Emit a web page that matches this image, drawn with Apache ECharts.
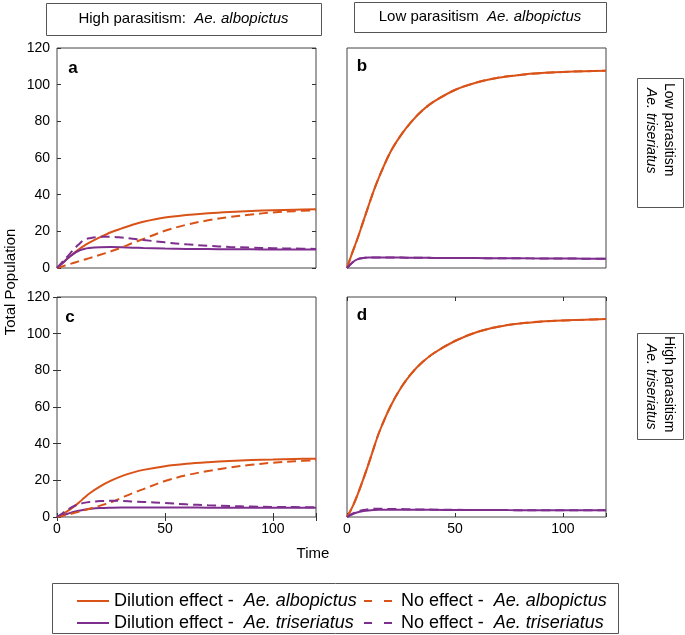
<!DOCTYPE html>
<html>
<head>
<meta charset="utf-8">
<script src="https://cdn.jsdelivr.net/npm/echarts@6/dist/echarts.min.js"></script>
<style>
html,body{margin:0;padding:0;background:#fff;}
#chart{width:685px;height:635px;}
</style>
</head>
<body>
<div id="chart"></div>
<script>
// ---- data ----
const T = [0, 2.5, 5, 7.5, 10, 12.5, 15, 20, 25, 30, 35, 40, 50, 60, 70, 80, 90, 100, 110, 120];

// panel a: high parasitism albopictus, low parasitism triseriatus
const aDilAlb = [0, 2.6, 5.3, 7.8, 10.1, 12.1, 13.8, 16.8, 19.5, 21.6, 23.6, 25.2, 27.5, 28.9, 29.9, 30.6, 31.1, 31.5, 31.8, 32.0];
const aNoAlb  = [0, 0.9, 1.8, 2.7, 3.6, 4.5, 5.4, 7.2, 9.1, 11.2, 13.6, 15.8, 20.3, 23.6, 26.0, 27.8, 29.2, 30.3, 31.0, 31.5];
const aDilTri = [0, 2.6, 5.3, 7.6, 9.4, 10.4, 10.9, 11.3, 11.4, 11.3, 11.1, 10.9, 10.6, 10.4, 10.3, 10.2, 10.2, 10.1, 10.1, 10.1];
const aNoTri  = [0, 3.3, 6.5, 9.8, 12.8, 15.3, 16.2, 17.0, 17.0, 16.6, 16.0, 15.3, 14.0, 12.9, 12.1, 11.5, 11.1, 10.8, 10.6, 10.4];

// panel b: low parasitism albopictus, low parasitism triseriatus
const bDilAlb = [0, 8.5, 16.5, 25.3, 34, 42.5, 50, 63, 72.5, 80, 86, 90.6, 97.1, 101.2, 103.8, 105.3, 106.3, 106.9, 107.3, 107.6];
const bNoAlb  = [0, 8.5, 16.5, 25.3, 34, 42.5, 50, 63, 72.5, 80, 86, 90.6, 97.1, 101.2, 103.8, 105.3, 106.3, 106.9, 107.3, 107.6];
const bDilTri = [0, 3.0, 4.8, 5.5, 5.7, 5.7, 5.7, 5.7, 5.7, 5.6, 5.6, 5.5, 5.5, 5.4, 5.3, 5.3, 5.2, 5.2, 5.1, 5.1];
const bNoTri  = [0, 3.0, 4.8, 5.5, 5.7, 5.7, 5.7, 5.7, 5.7, 5.6, 5.6, 5.5, 5.5, 5.4, 5.3, 5.3, 5.2, 5.2, 5.1, 5.1];

// panel c: high parasitism albopictus, high parasitism triseriatus
const cDilAlb = [0, 1.5, 3.3, 5.4, 7.7, 10.3, 12.8, 16.7, 19.8, 22.3, 24.2, 25.7, 27.7, 29.0, 29.9, 30.6, 31.1, 31.4, 31.7, 31.8];
const cNoAlb  = [0, 0.6, 1.3, 2.0, 2.8, 3.6, 4.5, 6.2, 8.0, 10.5, 13.0, 15.2, 19.6, 22.8, 25.1, 27.0, 28.5, 29.6, 30.4, 31.0];
const cDilTri = [0, 0.9, 1.8, 2.7, 3.4, 4.0, 4.4, 4.9, 5.1, 5.2, 5.2, 5.2, 5.2, 5.2, 5.1, 5.1, 5.1, 5.1, 5.1, 5.1];
const cNoTri  = [0, 2.0, 4.0, 5.8, 6.9, 7.7, 8.2, 8.7, 8.8, 8.8, 8.5, 8.2, 7.6, 6.9, 6.4, 6.0, 5.7, 5.5, 5.4, 5.3];

// panel d: low parasitism albopictus, high parasitism triseriatus
const dDilAlb = [0, 5.5, 12.5, 20.5, 29, 38, 46.5, 60, 70.5, 78.5, 84.5, 89.2, 96, 100.8, 103.8, 105.6, 106.6, 107.2, 107.6, 108];
const dNoAlb  = [0, 5.5, 12.5, 20.5, 29, 38, 46.5, 60, 70.5, 78.5, 84.5, 89.2, 96, 100.8, 103.8, 105.6, 106.6, 107.2, 107.6, 108];
const dDilTri = [0, 1.5, 2.6, 3.2, 3.6, 3.8, 3.9, 4.0, 4.0, 4.0, 3.9, 3.9, 3.8, 3.8, 3.8, 3.7, 3.7, 3.7, 3.7, 3.7];
const dNoTri  = [0, 1.8, 3.0, 3.8, 4.3, 4.5, 4.5, 4.4, 4.3, 4.2, 4.1, 4.0, 3.9, 3.8, 3.8, 3.7, 3.7, 3.7, 3.7, 3.7];

const xTicks = [0, 50, 100];
const yTicks = [0, 20, 40, 60, 80, 100, 120];
const panelLetters = ['a', 'b', 'c', 'd'];
const seriesNames = [
  'Dilution effect - Ae. albopictus',
  'No effect - Ae. albopictus',
  'Dilution effect - Ae. triseriatus',
  'No effect - Ae. triseriatus'
];
const colHeaders = ['High parasitism:  ', 'Low parasitism  '];
const colSpecies = 'Ae. albopictus';
const rowHeaders = ['Low parasitism', 'High parasitism'];
const rowSpecies = 'Ae. triseriatus';

// ---- styling ----
const FONT = 'Liberation Sans, Arial, Helvetica, sans-serif';
const ORANGE = '#D95319';
const PURPLE = '#7E2F8E';
const panelData = [
  [aDilAlb, aNoAlb, aDilTri, aNoTri],
  [bDilAlb, bNoAlb, bDilTri, bNoTri],
  [cDilAlb, cNoAlb, cDilTri, cNoTri],
  [dDilAlb, dNoAlb, dDilTri, dNoTri]
];
const grids = [
  {left: 57, top: 48, width: 259, height: 220},
  {left: 347, top: 48, width: 259, height: 220},
  {left: 57, top: 297, width: 259, height: 220},
  {left: 347, top: 297, width: 259, height: 220}
].map(g => Object.assign(g, {show: true, borderColor: '#444', borderWidth: 1, backgroundColor: '#fff'}));

const axisLine = {show: false};
const xAxis = [], yAxis = [];
for (let i = 0; i < 4; i++) {
  const bottomRow = i >= 2;
  const leftCol = i % 2 === 0;
  xAxis.push({
    type: 'value', gridIndex: i, min: 0, max: 120, interval: 50,
    axisLine, splitLine: {show: false},
    axisTick: {show: bottomRow, inside: true, length: 4, lineStyle: {color: '#333'}},
    axisLabel: {show: bottomRow, margin: 5, fontSize: 14, color: '#000', fontFamily: FONT,
      formatter: v => xTicks.includes(v) ? String(v) : ''}
  });
  yAxis.push({
    type: 'value', gridIndex: i, min: 0, max: 120, interval: 20,
    axisLine, splitLine: {show: false},
    axisTick: {show: leftCol, inside: true, length: 4, lineStyle: {color: '#333'}},
    axisLabel: {show: leftCol, margin: 7, fontSize: 14, color: '#000', fontFamily: FONT,
      formatter: v => yTicks.includes(v) ? String(v) : ''}
  });
}
// mirrored tick marks (top of bottom panels, right of left panels)
[2, 3].forEach(i => xAxis.push({
  type: 'value', gridIndex: i, min: 0, max: 120, interval: 50, position: 'top',
  axisLine, splitLine: {show: false}, axisLabel: {show: false},
  axisTick: {show: true, inside: true, length: 4, lineStyle: {color: '#333'}}
}));
[0, 2].forEach(i => yAxis.push({
  type: 'value', gridIndex: i, min: 0, max: 120, interval: 20, position: 'right',
  axisLine, splitLine: {show: false}, axisLabel: {show: false},
  axisTick: {show: true, inside: true, length: 4, lineStyle: {color: '#333'}}
}));

const series = [];
for (let p = 0; p < 4; p++) {
  [0, 2, 1, 3].forEach(k => {
    const vals = panelData[p][k];
    const col = k < 2 ? ORANGE : PURPLE;
    series.push({
      type: 'line', name: seriesNames[k], xAxisIndex: p, yAxisIndex: p,
      data: T.map((t, j) => [t, vals[j]]),
      showSymbol: false, symbol: 'none', smooth: 0.35,
      animation: false,
      lineStyle: {width: 2, color: col, type: k % 2 === 1 ? [9, 5] : 'solid'},
      itemStyle: {color: col},
      z: k % 2 === 1 ? 3 : 2
    });
  });
}

const legendRich = {
  n: {fontSize: 18, fontFamily: FONT, color: '#000'},
  i: {fontSize: 18, fontFamily: FONT, color: '#000', fontStyle: 'italic'}
};
const legendFormatter = name => {
  const idx = name.indexOf(' - ');
  return '{n|' + name.slice(0, idx + 3) + ' }{i|' + name.slice(idx + 3) + '}';
};
const legendBase = {
  orient: 'horizontal', itemWidth: 32, itemHeight: 12, itemGap: 9,
  selectedMode: false, formatter: legendFormatter, padding: 0,
  itemStyle: {opacity: 0},
  textStyle: {fontSize: 18, fontFamily: FONT, color: '#000', rich: legendRich}
};
const dashLegend = {lineStyle: {type: [8, 12]}};
const legend = [
  Object.assign({}, legendBase, {left: 76, top: 592, data: [seriesNames[0]]}),
  Object.assign({}, legendBase, dashLegend, {left: 363, top: 592, data: [seriesNames[1]]}),
  Object.assign({}, legendBase, {left: 76, top: 614, data: [seriesNames[2]]}),
  Object.assign({}, legendBase, dashLegend, {left: 363, top: 614, data: [seriesNames[3]]})
];

const graphic = [];
const headRich = {n: {fontSize: 15, fontFamily: FONT, fill: '#000'}, i: {fontSize: 15, fontFamily: FONT, fontStyle: 'italic', fill: '#000'}};
// column header boxes
graphic.push({type: 'rect', shape: {x: 46.5, y: 3.5, width: 275, height: 32}, style: {fill: '#fff', stroke: '#555', lineWidth: 1}});
graphic.push({type: 'text', x: 183.5, y: 19, style: {
  text: '{n|' + colHeaders[0] + '}{i|' + colSpecies + '}', align: 'center', verticalAlign: 'middle', rich: headRich}});
graphic.push({type: 'rect', shape: {x: 354.5, y: 2.5, width: 252, height: 30}, style: {fill: '#fff', stroke: '#555', lineWidth: 1}});
graphic.push({type: 'text', x: 480, y: 17, style: {
  text: '{n|' + colHeaders[1] + '}{i|' + colSpecies + '}', align: 'center', verticalAlign: 'middle', rich: headRich}});
// row header boxes (rotated text)
const rowBoxes = [{y: 78.5, h: 129, s1: 83, s2: 88}, {y: 333.5, h: 106, s1: 336, s2: 344}];
rowBoxes.forEach((b, r) => {
  graphic.push({type: 'rect', shape: {x: 637.5, y: b.y, width: 46, height: b.h}, style: {fill: '#fff', stroke: '#555', lineWidth: 1}});
  graphic.push({type: 'text', x: 669, y: b.s1, rotation: -Math.PI / 2, style: {
    text: rowHeaders[r], fontSize: 14, fontFamily: FONT, fill: '#000', align: 'left', verticalAlign: 'middle'}});
  graphic.push({type: 'text', x: 651, y: b.s2, rotation: -Math.PI / 2, style: {
    text: rowSpecies, fontSize: 14, fontFamily: FONT, fontStyle: 'italic', fill: '#000', align: 'left', verticalAlign: 'middle'}});
});
// panel letters
const letterPos = [[73, 68], [362, 66], [70, 317], [362, 315]];
panelLetters.forEach((l, i) => graphic.push({type: 'text', x: letterPos[i][0], y: letterPos[i][1], z: 10, style: {
  text: l, fontSize: 17, fontWeight: 'bold', fontFamily: FONT, fill: '#000', align: 'center', verticalAlign: 'middle'}}));
// axis titles
graphic.push({type: 'text', x: 11, y: 282, rotation: Math.PI / 2, style: {
  text: 'Total Population', fontSize: 15, fontFamily: FONT, fill: '#000', align: 'center', verticalAlign: 'middle'}});
graphic.push({type: 'text', x: 313, y: 554, style: {
  text: 'Time', fontSize: 15, fontFamily: FONT, fill: '#000', align: 'center', verticalAlign: 'middle'}});
// legend box
graphic.push({type: 'rect', shape: {x: 52.5, y: 583.5, width: 566, height: 50}, z: -1, style: {fill: '#fff', stroke: '#555', lineWidth: 1}});

const chart = echarts.init(document.getElementById('chart'), null, {renderer: 'canvas'});
chart.setOption({
  animation: false,
  backgroundColor: '#fff',
  grid: grids, xAxis, yAxis, series, legend, graphic
});
</script>
</body>
</html>
